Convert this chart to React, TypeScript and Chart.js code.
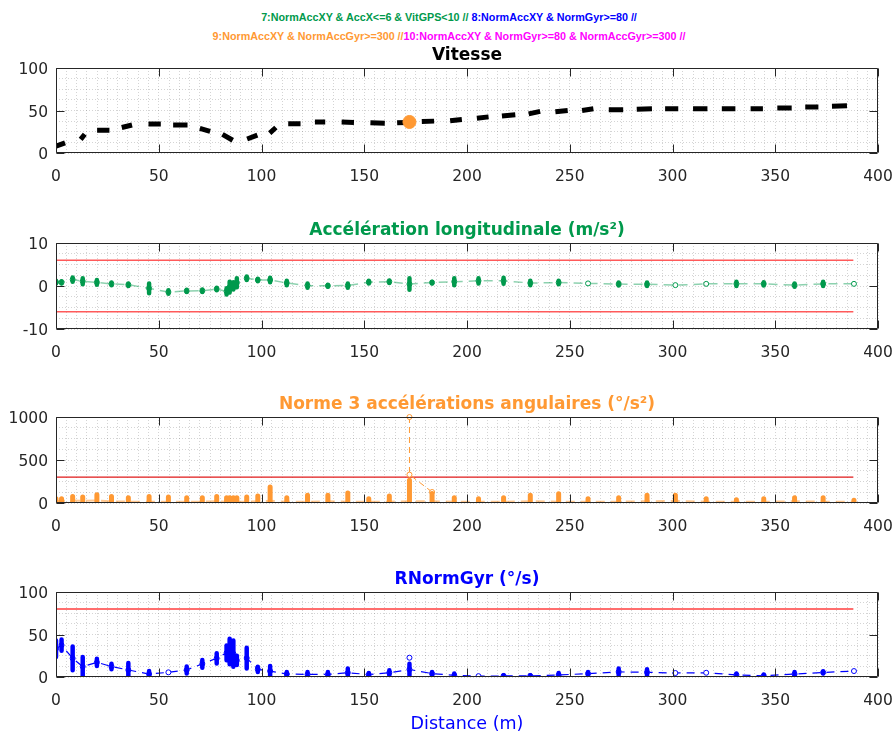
import React, { useEffect, useRef } from 'react';
import { Chart, registerables } from 'chart.js';

Chart.register(...registerables);

const FONT = '"DejaVu Sans", Verdana, sans-serif';
const HEAD_FONT = '"Liberation Sans", Arial, Helvetica, sans-serif';
const AXIS_COLOR = '#262626';
const GREEN = '#00994c';
const ORANGE = '#ff9933';
const BLUE = '#0000ff';
const MAGENTA = '#ff00ff';

// ---- Shared data ----
const xMajorTicks = [0, 50, 100, 150, 200, 250, 300, 350, 400];
const limitEnd = 388;

// Sample distances (m)
const sampleDist = [0, 2.7, 8.1, 13, 19.9, 27, 35.2, 45.3, 54.7, 63.6, 71.2, 78.2, 83, 84.5, 86.3, 88, 92.8, 98.2, 104.2, 112.3, 122.4, 132.3, 142, 152.2, 162.2, 172, 183, 193.8, 205.6, 217.8, 230.8, 244.6, 258.9, 273.8, 287.6, 301.4, 316.4, 331.1, 344.4, 359.4, 373.3, 388.3];

// Vitesse: dashed segments
const vitX0 = [0, 12, 20, 32, 45, 57, 70, 81, 93, 104, 113, 126, 139, 153, 166, 178, 191.8, 204.8, 217, 230, 243, 256, 269, 282.6, 296.4, 310, 324, 338, 351, 364.6, 377.6];
const vitX1 = [4.4, 14, 26, 37, 51, 64, 75, 86, 98, 107, 119, 131, 145, 160, 171, 184, 197.5, 210.5, 223.5, 235.6, 249, 261.5, 276, 290, 302.8, 317, 330.6, 344, 358, 371, 384.9];
const vitY0 = [8, 16, 26.7, 30, 34, 33, 29, 22, 16.5, 23.5, 34.5, 36.5, 36.5, 35.5, 35.5, 37, 38, 41, 43.5, 46, 48.5, 50, 51, 51.5, 52, 52, 52, 52, 53, 54, 55];
const vitY1 = [12, 22, 26.7, 33, 34, 33, 25.5, 15, 21, 30, 34.5, 36.5, 36, 35, 36, 37.5, 39.5, 42.5, 45, 49, 50, 52, 51, 52, 52, 52, 52, 52, 53, 54, 55.5];
const vitMarkX = [172];
const vitMarkY = [36.5];

// Accélération longitudinale
const accLo = [0.6, 0.6, 1.0, 0.4, 0.3, 0.2, 0.0, -1.7, -1.8, -1.4, -1.4, -1.0, -2.0, -1.5, -0.8, -0.3, 1.4, 1.1, 0.9, 0.2, -0.4, -0.2, -0.4, 0.6, 0.7, -0.9, 0.6, 0.2, 0.6, 0.5, 0.2, 0.4, 0.6, 0.1, 0.0, 0.2, 0.5, 0.0, 0.1, -0.2, 0.0, 0.5];
const accHi = [1.2, 1.1, 2.0, 1.8, 1.4, 0.8, 0.6, 0.6, -1.0, -0.9, -0.8, -0.4, -0.5, 1.0, 0.9, 1.8, 2.2, 1.7, 1.9, 1.2, 0.6, 0.3, 0.6, 1.2, 1.3, 1.8, 1.0, 1.8, 1.8, 1.9, 1.2, 1.2, 0.6, 0.8, 0.8, 0.2, 0.5, 1.0, 0.9, 0.6, 1.0, 0.5];
const accLimits = [6, -6];

// Norme 3 accélérations angulaires
const angLo = [5, 5, 8, 8, 8, 8, 5, 8, 5, 5, 5, 8, 5, 5, 5, 5, 8, 8, 8, 5, 8, 8, 8, 5, 8, 10, 8, 5, 5, 5, 8, 8, 5, 5, 8, 8, 5, 5, 5, 8, 8, 5];
const angHi = [50, 50, 77, 70, 97, 77, 62, 77, 70, 62, 62, 77, 62, 60, 62, 62, 70, 81, 186, 62, 89, 89, 116, 50, 81, 264, 110, 62, 50, 62, 89, 108, 50, 62, 89, 89, 50, 39, 50, 62, 62, 31];
const angBase = [20, 25, 30, 25, 30, 20, 15, 15, 15, 15, 15, 20, 15, 15, 20, 15, 15, 20, 25, 15, 15, 20, 15, 15, 15, 20, 20, 15, 15, 15, 20, 15, 15, 15, 20, 25, 15, 15, 15, 20, 15, 15];
const angSpikeX = [172, 172, 183];
const angSpikeY = [1000, 330, 128];
const angLimit = 300;

// RNormGyr
const gyrLo = [23.5, 31, 8, 1, 13, 9, 0, 0, 5.5, 4, 11, 16, 19.6, 15, 12, 14, 10, 6, 1, 1, 0, 0, 0, 1, 2, 2, 2, 0, 1, 0.5, 0.5, 0, 2, 2, 2, 4.7, 5, 1, 0, 1, 4, 7];
const gyrHi = [43, 44, 36, 23.5, 21.5, 15.7, 16.5, 7, 5.5, 12.5, 20, 28, 37, 45, 43, 25, 34.5, 12, 13, 6, 6, 6, 10, 4.7, 8, 15.7, 6, 4, 1, 2, 2, 4.7, 6, 10, 9, 4.7, 5, 4, 3, 6, 6.7, 7];
const gyrExtraX = [172];
const gyrExtraY = [22.7];
const gyrLimit = 80;

// ---- helpers ----
function segments(x0: number[], x1: number[], y0: number[], y1: number[]) {
  const pts: any[] = [];
  x0.forEach((x, i) => {
    pts.push({ x, y: y0[i] }, { x: x1[i], y: y1[i] }, { x: x1[i], y: null });
  });
  return pts;
}
function rangeBars(xs: number[], lo: number[], hi: number[]) {
  const pts: any[] = [];
  xs.forEach((x, i) => {
    if (hi[i] - lo[i] > 0.001) pts.push({ x, y: lo[i] }, { x, y: hi[i] }, { x, y: null });
  });
  return pts;
}
function mids(xs: number[], lo: number[], hi: number[]) {
  return xs.map((x, i) => ({ x, y: (lo[i] + hi[i]) / 2 }));
}
function pairs(xs: number[], ys: number[]) {
  return xs.map((x, i) => ({ x, y: ys[i] }));
}
function hline(y: number) {
  return [{ x: 0, y }, { x: limitEnd, y }];
}

const boxPlugin = {
  id: 'boxAxes',
  afterDatasetsDraw(chart: any, _args: any, opts: any) {
    const { ctx, chartArea: a, scales } = chart;
    const L = Math.round(a.left) + 0.5, R = Math.round(a.right) - 0.5;
    const T = Math.round(a.top) + 0.5, B = Math.round(a.bottom) - 0.5;
    ctx.save();
    ctx.strokeStyle = AXIS_COLOR;
    ctx.lineWidth = 1;
    ctx.beginPath();
    ctx.rect(L, T, R - L, B - T);
    const tl = 8;
    xMajorTicks.forEach((v) => {
      const px = Math.round(scales.x.getPixelForValue(v)) + 0.5;
      ctx.moveTo(px, T); ctx.lineTo(px, T + tl);
      ctx.moveTo(px, B); ctx.lineTo(px, B - tl);
    });
    (opts.yMajor || []).forEach((v: number) => {
      const py = Math.round(scales.y.getPixelForValue(v)) + 0.5;
      ctx.moveTo(L, py); ctx.lineTo(L + tl, py);
      ctx.moveTo(R, py); ctx.lineTo(R - tl, py);
    });
    ctx.stroke();
    ctx.restore();
  },
};

type PanelSpec = {
  title: string;
  titleColor: string;
  yMin: number;
  yMax: number;
  yStep: number;
  yMajor: number[];
  xHeight: number;
  xTitle?: string;
  datasets: any[];
};

function makeConfig(p: PanelSpec): any {
  const gridCommon = { color: 'rgba(38,38,38,0.2)', lineWidth: 1, drawTicks: false };
  return {
    type: 'line',
    data: { datasets: p.datasets },
    options: {
      responsive: false,
      animation: false,
      events: [],
      layout: { padding: { left: 0, right: 15, top: 0, bottom: 0 } },
      elements: { line: { tension: 0 }, point: { radius: 0 } },
      plugins: {
        legend: { display: false },
        tooltip: { enabled: false },
        title: {
          display: true,
          text: p.title,
          color: p.titleColor,
          fullSize: false,
          font: { family: FONT, size: 17, weight: 'bold', lineHeight: 1 },
          padding: { top: 3, bottom: 4 },
        },
        boxAxes: { yMajor: p.yMajor },
      },
      scales: {
        x: {
          type: 'linear',
          min: 0,
          max: 400,
          afterFit: (s: any) => { s.height = p.xHeight; s.paddingLeft = 0; s.paddingRight = 0; },
          grid: gridCommon,
          border: { display: false, dash: [1, 2] },
          ticks: {
            stepSize: 5,
            autoSkip: false,
            maxRotation: 0,
            maxTicksLimit: 1000,
            padding: 15,
            color: AXIS_COLOR,
            font: { family: FONT, size: 15.5 },
            callback: (v: number) => (xMajorTicks.includes(v) ? String(v) : ''),
          },
          title: p.xTitle
            ? { display: true, text: p.xTitle, color: BLUE, font: { family: FONT, size: 17.5, lineHeight: 1 }, padding: { top: 0, bottom: 0 } }
            : { display: false },
        },
        y: {
          type: 'linear',
          min: p.yMin,
          max: p.yMax,
          afterFit: (s: any) => { s.width = 56; s.paddingTop = 0; s.paddingBottom = 0; },
          grid: gridCommon,
          border: { display: false, dash: [1, 2] },
          ticks: {
            stepSize: p.yStep,
            autoSkip: false,
            maxTicksLimit: 1000,
            padding: 8,
            labelOffset: 2,
            color: AXIS_COLOR,
            font: { family: FONT, size: 15.5 },
            callback: (v: number) => (p.yMajor.some((m) => Math.abs(m - v) < 1e-9) ? String(v) : ''),
          },
        },
      },
    },
    plugins: [boxPlugin],
  };
}

const vitesseSpec: PanelSpec = {
  title: 'Vitesse',
  titleColor: '#000000',
  yMin: 0, yMax: 100, yStep: 12.5, yMajor: [0, 50, 100],
  xHeight: 36,
  datasets: [
    { data: pairs(vitMarkX, vitMarkY), showLine: false, pointRadius: 6.5, pointBackgroundColor: ORANGE, pointBorderColor: ORANGE, borderColor: ORANGE },
    { data: segments(vitX0, vitX1, vitY0, vitY1), borderColor: '#000000', borderWidth: 5, borderCapStyle: 'butt', pointRadius: 0, spanGaps: false },
  ],
};

const accSpec: PanelSpec = {
  title: 'Accélération longitudinale (m/s²)',
  titleColor: GREEN,
  yMin: -10, yMax: 10, yStep: 2.5, yMajor: [-10, 0, 10],
  xHeight: 36,
  datasets: [
    { data: rangeBars(sampleDist, accLo, accHi), borderColor: GREEN, borderWidth: 4.5, borderCapStyle: 'round', pointRadius: 0, spanGaps: false },
    { data: mids(sampleDist, accLo, accHi), borderColor: 'rgba(0,153,76,0.45)', borderWidth: 1.5, borderDash: [9, 6], pointRadius: 2.5, pointBackgroundColor: '#ffffff', pointBorderColor: GREEN, pointBorderWidth: 1 },
    { data: hline(accLimits[0]), borderColor: '#ff5a5a', borderWidth: 1.5, pointRadius: 0 },
    { data: hline(accLimits[1]), borderColor: '#ff5a5a', borderWidth: 1.5, pointRadius: 0 },
  ],
};

const angSpec: PanelSpec = {
  title: 'Norme 3 accélérations angulaires (°/s²)',
  titleColor: ORANGE,
  yMin: 0, yMax: 1000, yStep: 125, yMajor: [0, 500, 1000],
  xHeight: 36,
  datasets: [
    { data: rangeBars(sampleDist, angLo, angHi), borderColor: ORANGE, borderWidth: 5, borderCapStyle: 'round', pointRadius: 0, spanGaps: false },
    { data: pairs(angSpikeX, angSpikeY), borderColor: ORANGE, borderWidth: 1, borderDash: [6, 4], pointRadius: 2.5, pointBackgroundColor: '#ffffff', pointBorderColor: ORANGE, pointBorderWidth: 1, clip: 5 },
    { data: pairs(sampleDist, angBase), borderColor: 'rgba(255,153,51,0.55)', borderWidth: 2, borderDash: [9, 6], pointRadius: 0 },
    { data: hline(angLimit), borderColor: '#e01818', borderWidth: 1.2, pointRadius: 0 },
  ],
};

const gyrSpec: PanelSpec = {
  title: 'RNormGyr (°/s)',
  titleColor: BLUE,
  yMin: 0, yMax: 100, yStep: 12.5, yMajor: [0, 50, 100],
  xHeight: 56,
  xTitle: 'Distance (m)',
  datasets: [
    { data: rangeBars(sampleDist, gyrLo, gyrHi), borderColor: BLUE, borderWidth: 4.5, borderCapStyle: 'round', pointRadius: 0, spanGaps: false },
    { data: pairs(gyrExtraX, gyrExtraY), showLine: false, pointRadius: 2.5, pointBackgroundColor: '#ffffff', pointBorderColor: BLUE, pointBorderWidth: 1 },
    { data: mids(sampleDist, gyrLo, gyrHi), borderColor: BLUE, borderWidth: 1.2, borderDash: [8, 6], pointRadius: 2.5, pointBackgroundColor: '#ffffff', pointBorderColor: BLUE, pointBorderWidth: 1 },
    { data: hline(gyrLimit), borderColor: '#ff6e6e', borderWidth: 2, pointRadius: 0 },
  ],
};

function Panel({ top, height, spec }: { top: number; height: number; spec: PanelSpec }) {
  const ref = useRef<HTMLCanvasElement | null>(null);
  useEffect(() => {
    if (!ref.current) return;
    const chart = new Chart(ref.current, makeConfig(spec));
    return () => chart.destroy();
  }, [spec]);
  return (
    <canvas
      ref={ref}
      width={893}
      height={height}
      style={{ position: 'absolute', left: 0, top, width: 893, height }}
    />
  );
}

const headerStyle: React.CSSProperties = {
  position: 'absolute',
  left: 49,
  width: 800,
  textAlign: 'center',
  fontFamily: HEAD_FONT,
  fontWeight: 'bold',
  fontSize: 10.75,
  whiteSpace: 'pre',
  lineHeight: '12px',
};

export default function App() {
  useEffect(() => {
    document.body.style.margin = '0';
  }, []);
  return (
    <div style={{ position: 'absolute', left: 0, top: 0, width: 893, height: 733, background: '#ffffff', overflow: 'hidden' }}>
      <div style={{ ...headerStyle, top: 11 }}>
        <span style={{ color: GREEN }}>7:NormAccXY &amp; AccX&lt;=6 &amp; VitGPS&lt;10 //</span>
        <span style={{ color: BLUE }}> 8:NormAccXY &amp; NormGyr&gt;=80 //</span>
      </div>
      <div style={{ ...headerStyle, top: 30 }}>
        <span style={{ color: ORANGE }}>9:NormAccXY &amp; NormAccGyr&gt;=300 //</span>
        <span style={{ color: MAGENTA }}>10:NormAccXY &amp; NormGyr&gt;=80 &amp; NormAccGyr&gt;=300 //</span>
      </div>
      <Panel top={44} height={145} spec={vitesseSpec} />
      <Panel top={219} height={146} spec={accSpec} />
      <Panel top={393} height={146} spec={angSpec} />
      <Panel top={568} height={165} spec={gyrSpec} />
    </div>
  );
}
